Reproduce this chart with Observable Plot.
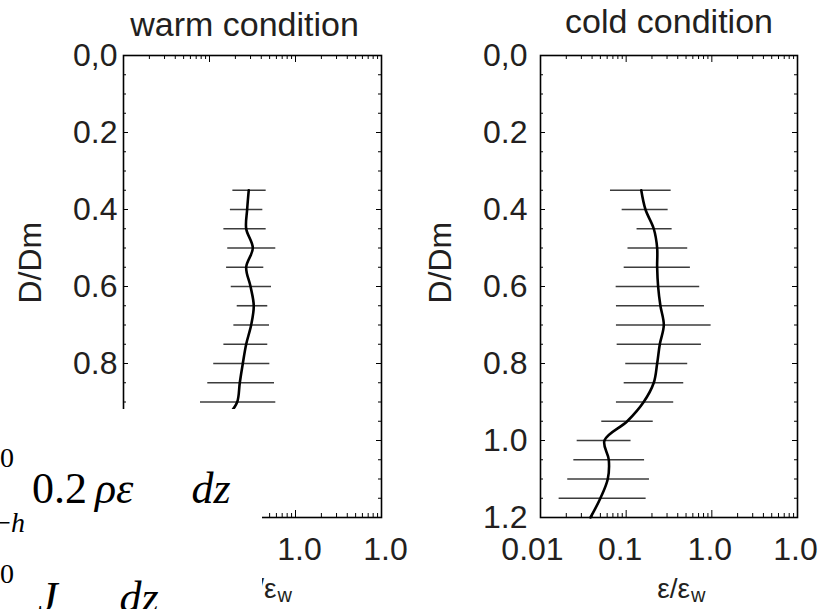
<!DOCTYPE html>
<html>
<head>
<meta charset="utf-8">
<script src="https://cdn.jsdelivr.net/npm/d3@7"></script>
<script src="https://cdn.jsdelivr.net/npm/@observablehq/plot@0.6"></script>
<style>
html, body { margin: 0; padding: 0; background: #fff; }
#wrap { position: relative; width: 834px; height: 609px; overflow: hidden; background: #fff; }
#wrap svg { position: absolute; top: 0; }
</style>
</head>
<body>
<div id="wrap"></div>
<script>
// ---- data ----
const panelTitles = ["warm condition", "cold condition"];
const yTicksMajor = [0, 0.2, 0.4, 0.6, 0.8, 1.0, 1.2];
const yTickLabels = ["0,0", "0.2", "0.4", "0.6", "0.8", "1.0", "1.2"];
const yTicksMinor = [0.05, 0.1, 0.15, 0.25, 0.3, 0.35, 0.45, 0.5, 0.55, 0.65, 0.7, 0.75, 0.85, 0.9, 0.95, 1.05, 1.1, 1.15];
const xTicksMajor = [0.01, 0.1, 1, 10];
const xTickLabels = ["0.01", "0.1", "1.0", "1.0"];
const xTicksMinor = [0.02, 0.03, 0.04, 0.05, 0.06, 0.07, 0.08, 0.09,
                     0.2, 0.3, 0.4, 0.5, 0.6, 0.7, 0.8, 0.9,
                     2, 3, 4, 5, 6, 7, 8, 9];

// warm condition
const warmDepth = [0.35, 0.40, 0.45, 0.50, 0.55, 0.60, 0.65, 0.70, 0.75, 0.80, 0.85, 0.90];
const warmLow   = [0.187, 0.175, 0.147, 0.163, 0.158, 0.179, 0.210, 0.192, 0.147, 0.112, 0.0955, 0.0786];
const warmHigh  = [0.456, 0.417, 0.456, 0.590, 0.428, 0.526, 0.476, 0.499, 0.476, 0.503, 0.570, 0.590];
const warmLineDepth = [0.35, 0.40, 0.45, 0.50, 0.55, 0.60, 0.65, 0.70, 0.75, 0.80, 0.85, 0.90, 0.93];
const warmLineMean  = [0.286, 0.274, 0.267, 0.319, 0.267, 0.300, 0.327, 0.305, 0.267, 0.244, 0.225, 0.210, 0.172];

// cold condition
const coldDepth = [0.35, 0.40, 0.45, 0.50, 0.55, 0.60, 0.65, 0.70, 0.75, 0.80, 0.85, 0.90, 0.95, 1.00, 1.05, 1.10, 1.15];
const coldLow   = [0.0656, 0.0898, 0.134, 0.105, 0.0948, 0.0764, 0.077, 0.077, 0.0785, 0.0989, 0.0948, 0.077, 0.0519, 0.0268, 0.0245, 0.0208, 0.0165];
const coldHigh  = [0.335, 0.309, 0.344, 0.523, 0.562, 0.722, 0.820, 0.981, 0.756, 0.523, 0.470, 0.359, 0.207, 0.114, 0.164, 0.187, 0.171];
const coldLineDepth = [0.35, 0.40, 0.45, 0.50, 0.55, 0.60, 0.65, 0.70, 0.75, 0.80, 0.85, 0.90, 0.95, 1.00, 1.05, 1.10, 1.15, 1.20];
const coldLineMean  = [0.150, 0.168, 0.210, 0.230, 0.230, 0.236, 0.251, 0.275, 0.247, 0.230, 0.210, 0.160, 0.103, 0.0558, 0.0627, 0.061, 0.050, 0.0383];

// ---- drawing ----
const ink = "#231f20";
const font = "'Liberation Sans', Arial, Helvetica, sans-serif";

function panel(cfg) {
  const width = 417, height = 609;
  const mL = 123, mR = cfg.marginRight, mT = 55, mB = 92;
  const W = width - mL - mR, H = height - mT - mB;
  const bars = cfg.depth.map((d, i) => ({d, lo: cfg.low[i], hi: cfg.high[i]}));
  const line = cfg.lineDepth.map((d, i) => ({d, m: cfg.lineMean[i]}));
  const marks = [
    Plot.ruleY(bars, {y: "d", x1: "lo", x2: "hi", stroke: "#3c3c3c", strokeWidth: 1.6}),
    Plot.line(line, {x: "m", y: "d", curve: "catmull-rom", stroke: "#000", strokeWidth: 2.6}),
    Plot.frame({stroke: "#000", strokeWidth: 1.6}),
    // inward ticks: left / right
    Plot.tickY(yTicksMinor, {y: d => d, insetRight: W - 3, stroke: "#000"}),
    Plot.tickY(yTicksMajor, {y: d => d, insetRight: W - 5, stroke: "#000"}),
    Plot.tickY(yTicksMinor, {y: d => d, insetLeft: W - 3, stroke: "#000"}),
    Plot.tickY(yTicksMajor, {y: d => d, insetLeft: W - 5, stroke: "#000"}),
    // inward ticks: top / bottom
    Plot.tickX(xTicksMinor, {x: d => d, insetBottom: H - 4, stroke: "#000"}),
    Plot.tickX(xTicksMajor, {x: d => d, insetBottom: H - 7, stroke: "#000"}),
    Plot.tickX(xTicksMinor, {x: d => d, insetTop: H - 4, stroke: "#000"}),
    Plot.tickX(xTicksMajor, {x: d => d, insetTop: H - 7, stroke: "#000"}),
    Plot.axisY(yTicksMajor, {tickSize: 0, tickPadding: cfg.yPad, fontSize: 32, label: null,
      tickFormat: d => yTickLabels[yTicksMajor.indexOf(d)]}),
    ...xTicksMajor.map((v, i) => Plot.axisX([v], {tickSize: 0, tickPadding: 20, fontSize: 32, label: null,
      dx: cfg.xLabelDx[i], tickFormat: () => xTickLabels[i]})),
    Plot.text([cfg.title], {text: d => d, frameAnchor: "top", lineAnchor: "top", dx: cfg.titleDx, dy: cfg.titleDy, fontSize: 34}),
    Plot.text(["D/Dm"], {text: d => d, frameAnchor: "left", rotate: -90, dx: cfg.yLabelDx, dy: 17, fontSize: 32}),
    Plot.text(["ε/ε"], {text: d => d, frameAnchor: "bottom", textAnchor: "end", lineAnchor: "top",
      dx: cfg.xLabelShift + 21, dy: 61, fontSize: 28}),
    Plot.text(["w"], {text: d => d, frameAnchor: "bottom", textAnchor: "start", lineAnchor: "top",
      dx: cfg.xLabelShift + 22, dy: 70, fontSize: 20})
  ];
  const svg = Plot.plot({
    width, height,
    marginLeft: mL, marginRight: mR, marginTop: mT, marginBottom: mB,
    x: {type: "log", domain: [0.01, 10], label: null},
    y: {domain: [0, 1.2], reverse: true, label: null},
    style: {fontFamily: font, fontSize: "32px", color: ink, background: "transparent", overflow: "visible"},
    marks
  });
  svg.style.left = cfg.left + "px";
  return svg;
}

const wrap = document.getElementById("wrap");
wrap.appendChild(panel({
  left: 0, marginRight: 36, title: panelTitles[0], titleDx: -8, titleDy: -44,
  depth: warmDepth, low: warmLow, high: warmHigh,
  lineDepth: warmLineDepth, lineMean: warmLineMean,
  yPad: 6, xLabelDx: [4, 4, 4, 4], yLabelDx: -93, xLabelShift: 3
}));
wrap.appendChild(panel({
  left: 417, marginRight: 37, title: panelTitles[1], titleDx: 0, titleDy: -47,
  depth: coldDepth, low: coldLow, high: coldHigh,
  lineDepth: coldLineDepth, lineMean: coldLineMean,
  yPad: 13, xLabelDx: [-8, -6, -2, -2], yLabelDx: -100, xLabelShift: 0
}));

// ---- overlaid equation fragment (white patch over the lower-left corner) ----
const ov = d3.select(wrap).append("svg")
  .attr("width", 834).attr("height", 609)
  .style("left", "0px").style("pointer-events", "none");
ov.append("rect").attr("x", 0).attr("y", 409).attr("width", 262).attr("height", 200).attr("fill", "#fff");
const eq = ov.append("g").attr("font-family", "'Liberation Serif', 'Times New Roman', serif").attr("fill", "#000");

function eqText(x, y, size, anchor, parts) {
  const t = eq.append("text").attr("x", x).attr("y", y).attr("font-size", size).attr("text-anchor", anchor);
  parts.forEach(p => {
    const s = t.append("tspan").attr("font-style", p.it ? "italic" : "normal").text(p.t);
    if (p.dx) s.attr("dx", p.dx);
  });
}
eqText(0, 467, 28, "start", [{t: "0"}]);
eqText(32, 503, 44, "start", [{t: "0.2"}, {t: "ρε", it: true, dx: 8}, {t: "dz", it: true, dx: 58}]);
eqText(25, 532, 28, "end", [{t: "−"}, {t: "h", it: true}]);
eqText(0, 583, 28, "start", [{t: "0"}]);
eqText(38, 612, 44, "start", [{t: "J", it: true}, {t: "dz", it: true, dx: 62}]);
</script>
</body>
</html>
